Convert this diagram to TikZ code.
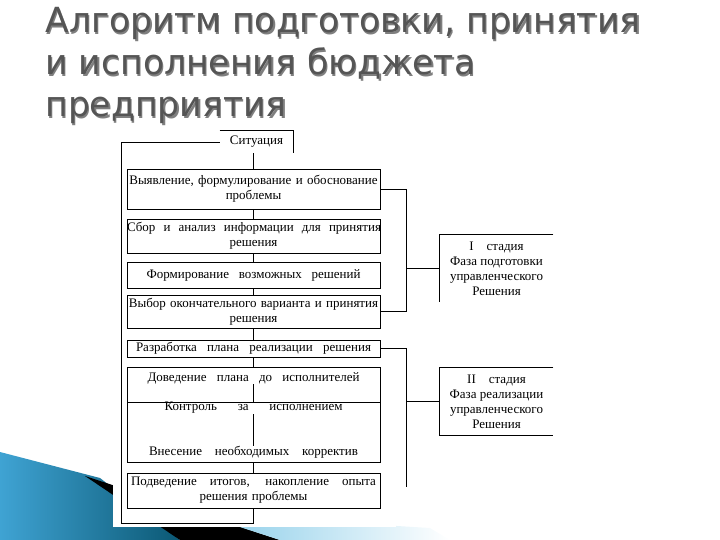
\documentclass[tikz,border=0pt]{standalone}
\usepackage{fontspec}
\setmainfont{Liberation Serif}
\newfontfamily\ttlfont{DejaVu Sans}
\definecolor{ttlgray}{HTML}{555555}
\definecolor{swblue}{HTML}{3FA3D3}
\definecolor{swteal}{HTML}{0B5874}
\definecolor{swlight}{HTML}{86CBE8}
\newcommand{\spread}[2]{\makebox[#1pt][s]{\spaceskip=\fontdimen2\font plus 1fil\relax #2}}
\tikzset{
  box/.style={draw, text width=253pt, inner sep=0pt, align=center},
  lbl/.style={inner sep=0pt, align=center},
  ttl/.style={anchor=base west, inner sep=0pt, font=\ttlfont\fontsize{34.6}{40}\selectfont}
}
\begin{document}
\begin{tikzpicture}[x=1pt, y=-1pt, line width=0.8pt, font=\fontsize{13}{15}\selectfont]
\useasboundingbox (0,0) rectangle (720,540);
% bottom swoosh
\shade[left color=swblue, right color=swteal] (0,452) -- (100,478) -- (180,540) -- (0,540) -- cycle;
\fill[black] (85,476) -- (280,540) -- (180,540) -- cycle;
\shade[left color=swlight, right color=white] (200,514) -- (430,528) -- (450,540) -- (280,540) -- cycle;
\fill[white] (113,126) rectangle (396,527);
% title
\foreach \txt/\yy [count=\i] in {{Алгоритм подготовки, принятия}/33, {и исполнения бюджета}/75, {предприятия}/117}{
  \node[ttl, text=black, opacity=0.5] (shd\i) at (46.5,\yy+1.5) {\txt};
  \node[ttl, text=ttlgray] (title\i) at (45,\yy) {\txt};
}
% situation
\node[lbl, minimum width=73pt, minimum height=22pt] (sit) at (256.5,142) {Ситуация};
\draw (sit.north west) -- (sit.north east) -- (sit.south east);
% steps
\node[box, minimum height=40pt] (b1) at (253.5,189) {Выявление, формулирование и обоснование\\проблемы};
\node[box, minimum height=34pt] (b2) at (253.5,236) {\spread{254}{Сбор и анализ информации для принятия}\\решения};
\node[box, minimum height=26pt] (b3) at (253.5,275) {\spread{214}{Формирование возможных решений}};
\node[box, minimum height=33pt] (b4) at (253.5,311.5) {Выбор окончательного варианта и принятия\\решения};
\node[box, minimum height=17pt] (b5) at (253.5,348.5) {\spread{235}{Разработка плана реализации решения}};
\node[box, minimum height=35pt] (b6) at (253.5,384.5) {};
\node[lbl] (b6t) at (253.5,378) {\spread{212}{Доведение плана до исполнителей}};
\node[box, minimum height=60pt] (b7) at (253.5,432) {};
\node[lbl] (b7a) at (253.5,408) {\spread{178}{Контроль за исполнением}};
\node[lbl] (b7b) at (253.5,452) {\spread{209}{Внесение необходимых корректив}};
\node[box, minimum height=35pt] (b8) at (253.5,490.5) {\spread{245}{Подведение итогов, накопление опыта}\\решения проблемы};
% stages
\node[lbl, minimum width=113pt, minimum height=67pt] (stg1) at (496.5,268.5) {I\quad стадия\\Фаза подготовки\\управленческого\\Решения};
\draw (stg1.north east) -- (stg1.north west) -- (stg1.south west);
\node[lbl, minimum width=113pt, minimum height=67pt] (stg2) at (496.5,401.5) {II\quad стадия\\Фаза реализации\\управленческого\\Решения};
\draw (stg2.north east) -- (stg2.north west) -- (stg2.south west) -- (stg2.south east);
% connectors
\draw (sit.south -| b1.north) -- (b1);
\foreach \a/\b in {b1/b2, b2/b3, b3/b4, b4/b5, b5/b6, b7/b8}
  \draw (\a) -- (\b);
\draw (b6t) -- (b7);
\draw (b7a) -- (b7b);
\coordinate (loopbl) at (121,523);
\draw (sit.west) -| (loopbl) -| (b8.south);
\coordinate (brk) at (406,0);
\coordinate (brkend) at (406,487);
\draw (b1.east) -- (b1.east -| brk) -- (b4.east -| brk) -- (b4.east);
\draw (stg1.west -| brk) -- (stg1.west);
\draw (b5.east) -- (b5.east -| brk) -- (brkend);
\draw (stg2.west -| brk) -- (stg2.west);
\end{tikzpicture}
\end{document}
